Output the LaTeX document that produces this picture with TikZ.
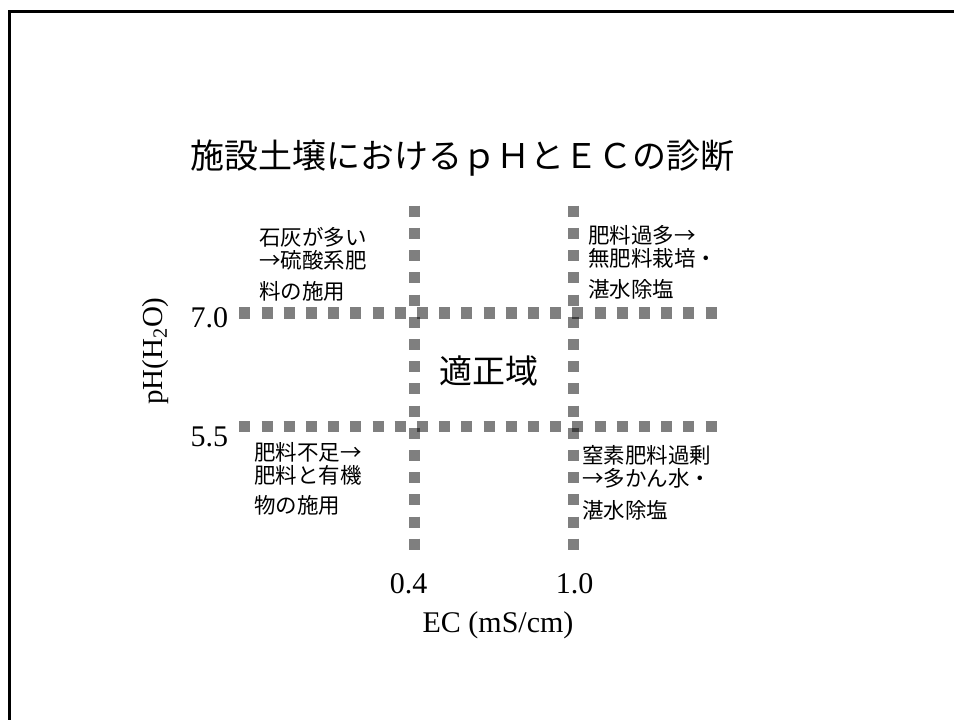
\documentclass[tikz,border=0pt]{standalone}
\usepackage{fontspec}
\setmainfont{Liberation Serif}
\newfontfamily\jpfont{Noto Sans CJK JP}
\tikzset{
  gridline/.style={line width=11.1pt,draw opacity=0.5,dash pattern=on 11.1pt off 11.1pt},
  zone/.style={font=\jpfont\fontsize{21.5}{23.5}\selectfont,align=left,anchor=north west,inner sep=0pt},
  num/.style={font=\fontsize{30}{36}\selectfont,inner sep=0pt}
}
\begin{document}
\begin{tikzpicture}[x=1pt,y=-1pt]
\useasboundingbox (0,0) rectangle (954,720);
\draw[black,line width=3pt] (9.5,720) -- (9.5,11.5) -- (954,11.5);
\coordinate (v1a) at (414.5,205.7);
\coordinate (v1b) at (414.5,550);
\coordinate (v2a) at (573.2,205.7);
\coordinate (v2b) at (573.2,550);
\coordinate (h1a) at (239.3,313);
\coordinate (h1b) at (716.7,313);
\coordinate (h2a) at (239.3,426.8);
\coordinate (h2b) at (716.7,426.8);
\draw[gridline] (v1a) -- (v1b);
\draw[gridline] (v2a) -- (v2b);
\draw[gridline] (h1a) -- (h1b);
\draw[gridline] (h2a) -- (h2b);
\node[font=\jpfont\fontsize{34}{40}\selectfont,anchor=base] (T) at (462.5,168) {施設土壌におけるｐＨとＥＣの診断};
\node[font=\jpfont\fontsize{33}{40}\selectfont,anchor=base] (OK) at (488.5,383) {適正域};
\node[zone] (UL) at (259,227) {石灰が多い\\→硫酸系肥\\[7pt]料の施用};
\node[zone] (UR) at (588,225) {肥料過多→\\無肥料栽培・\\[7pt]湛水除塩};
\node[zone] (LL) at (254,442) {肥料不足→\\肥料と有機\\[6pt]物の施用};
\node[zone] (LR) at (582,445) {窒素肥料過剰\\→多かん水・\\[8pt]湛水除塩};
\node[num,anchor=base east] (P7) at (228.3,327) {7.0};
\node[num,anchor=base east] (P5) at (228.3,446) {5.5};
\node[num,anchor=base] (E4) at (408.5,593) {0.4};
\node[num,anchor=base] (E10) at (574.5,593) {1.0};
\node[num,anchor=base] (EC) at (498,632) {EC (mS/cm)};
\node[font=\fontsize{29}{34}\selectfont,inner sep=0pt,rotate=90,anchor=base] (PH) at (162,351) {pH(H\textsubscript{2}O)};
\end{tikzpicture}
\end{document}
